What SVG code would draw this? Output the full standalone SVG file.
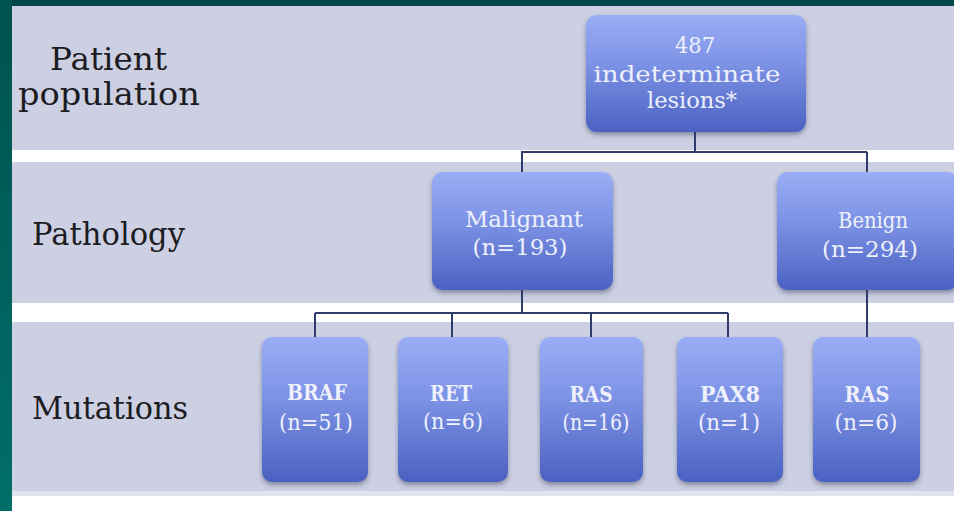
<svg xmlns="http://www.w3.org/2000/svg" width="954" height="511" viewBox="0 0 954 511">
<defs>
<linearGradient id="boxg" x1="0" y1="0" x2="0" y2="1">
<stop offset="0" stop-color="#9aadf6"/>
<stop offset="0.45" stop-color="#7a90e3"/>
<stop offset="1" stop-color="#4a61c2"/>
</linearGradient>
<linearGradient id="strip" x1="0" y1="0" x2="0" y2="1">
<stop offset="0" stop-color="#00524f"/>
<stop offset="1" stop-color="#006e69"/>
</linearGradient>
<filter id="sh" x="-10%" y="-10%" width="120%" height="125%">
<feDropShadow dx="0" dy="3" stdDeviation="2.5" flood-color="#2a3050" flood-opacity="0.45"/>
</filter>
</defs>
<style>
.band{fill:#cdd0e3}
.box{fill:url(#boxg);filter:url(#sh)}
.lbl{font-family:"DejaVu Serif","Liberation Serif",serif;font-size:32px;fill:#1c1c22}
.bt{font-family:"DejaVu Serif","Liberation Serif",serif;font-size:23px;fill:#eef0fb;text-anchor:middle}
.mt{font-family:"DejaVu Serif","Liberation Serif",serif;font-size:23px;fill:#eef0fb;text-anchor:middle;font-weight:bold}
.mn{font-family:"DejaVu Serif","Liberation Serif",serif;font-size:23px;fill:#eef0fb;text-anchor:middle}
.ln{fill:none;stroke:#2f3c6c;stroke-width:2}
</style>
<rect x="0" y="0" width="954" height="511" fill="#ffffff"/>
<rect class="band" x="12" y="6" width="942" height="144"/>
<rect class="band" x="12" y="162" width="942" height="141"/>
<rect class="band" x="12" y="322" width="942" height="169"/>
<rect x="12" y="491" width="942" height="5" fill="#e2e3ec"/>
<rect x="0" y="0" width="954" height="6" fill="#00464a"/>
<rect x="0" y="0" width="12" height="511" fill="url(#strip)"/>
<g id="row-labels">
<text class="lbl" x="50" y="70" textLength="117" lengthAdjust="spacingAndGlyphs">Patient</text>
<text class="lbl" x="18" y="105" textLength="182" lengthAdjust="spacingAndGlyphs">population</text>
<text class="lbl" x="32" y="245" textLength="153" lengthAdjust="spacingAndGlyphs">Pathology</text>
<text class="lbl" x="32" y="419" textLength="156" lengthAdjust="spacingAndGlyphs">Mutations</text>
</g>
<g id="connectors">
<path class="ln" d="M695 132 V152 M521 152 H867 M522 152 V172 M867 152 V172"/>
<path class="ln" d="M522 290 V313 M315 313 H728 M315 313 V337 M452 313 V337 M591 313 V337 M728 313 V337"/>
<path class="ln" d="M867 290 V337"/>
</g>
<g id="node-total">
<rect class="box" x="586" y="15" width="220" height="117" rx="11"/>
<text class="bt" x="695" y="53" textLength="40" lengthAdjust="spacingAndGlyphs">487</text>
<text class="bt" x="687" y="82" textLength="187" lengthAdjust="spacingAndGlyphs">indeterminate</text>
<text class="bt" x="692" y="108" textLength="90" lengthAdjust="spacingAndGlyphs">lesions*</text>
</g>
<g id="node-malignant">
<rect class="box" x="432" y="172" width="181" height="118" rx="11"/>
<text class="bt" x="524" y="227" textLength="118" lengthAdjust="spacingAndGlyphs">Malignant</text>
<text class="bt" x="520" y="255" textLength="95" lengthAdjust="spacingAndGlyphs">(n=193)</text>
</g>
<g id="node-benign">
<rect class="box" x="777" y="172" width="181" height="118" rx="11"/>
<text class="bt" x="873" y="228" textLength="70" lengthAdjust="spacingAndGlyphs">Benign</text>
<text class="bt" x="870" y="257" textLength="96" lengthAdjust="spacingAndGlyphs">(n=294)</text>
</g>
<g id="node-braf">
<rect class="box" x="262" y="337" width="106" height="145" rx="10"/>
<text class="mt" x="317" y="400" textLength="60" lengthAdjust="spacingAndGlyphs">BRAF</text>
<text class="mn" x="316" y="430" textLength="74" lengthAdjust="spacingAndGlyphs">(n=51)</text>
</g>
<g id="node-ret">
<rect class="box" x="398" y="337" width="110" height="145" rx="10"/>
<text class="mt" x="451" y="401" textLength="42" lengthAdjust="spacingAndGlyphs">RET</text>
<text class="mn" x="453" y="429" textLength="60" lengthAdjust="spacingAndGlyphs">(n=6)</text>
</g>
<g id="node-ras-m">
<rect class="box" x="540" y="337" width="103" height="145" rx="10"/>
<text class="mt" x="591" y="402" textLength="43" lengthAdjust="spacingAndGlyphs">RAS</text>
<text class="mn" x="596" y="430" textLength="67" lengthAdjust="spacingAndGlyphs">(n=16)</text>
</g>
<g id="node-pax8">
<rect class="box" x="677" y="337" width="106" height="145" rx="10"/>
<text class="mt" x="730" y="402" textLength="60" lengthAdjust="spacingAndGlyphs">PAX8</text>
<text class="mn" x="729" y="430" textLength="62" lengthAdjust="spacingAndGlyphs">(n=1)</text>
</g>
<g id="node-ras-b">
<rect class="box" x="813" y="337" width="107" height="145" rx="10"/>
<text class="mt" x="867" y="402" textLength="45" lengthAdjust="spacingAndGlyphs">RAS</text>
<text class="mn" x="866" y="430" textLength="63" lengthAdjust="spacingAndGlyphs">(n=6)</text>
</g>
</svg>
